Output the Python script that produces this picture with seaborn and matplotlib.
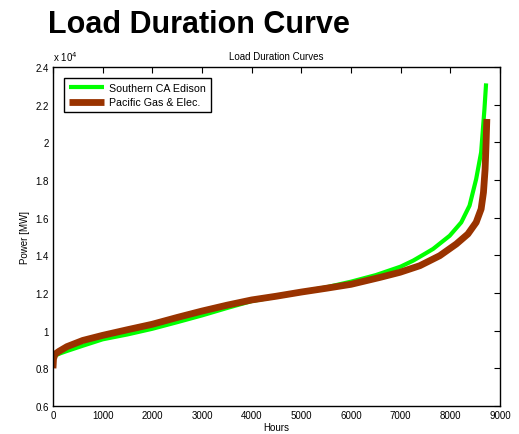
import matplotlib
matplotlib.use("Agg")
import matplotlib.pyplot as plt
import seaborn as sns
import pandas as pd
from matplotlib.ticker import FuncFormatter, MultipleLocator

sce_hours = [0, 20, 60, 150, 280, 600, 1000, 1500, 2000, 2500, 3000, 3500, 4000,
             4500, 5000, 5500, 6000, 6500, 7000, 7253, 7500, 7653, 7987, 8220,
             8387, 8520, 8620, 8687, 8720]
sce_mw = [8200, 8500, 8700, 8800, 8920, 9200, 9540, 9800, 10100, 10450, 10810,
          11200, 11570, 11800, 12070, 12300, 12600, 12950, 13400, 13720, 14100,
          14340, 15040, 15750, 16640, 18050, 19470, 21770, 23130]

pge_hours = [0, 10, 40, 120, 280, 600, 1000, 1500, 2000, 2500, 3000, 3500, 4000,
             4500, 5000, 5500, 6000, 6587, 6987, 7387, 7787, 8120, 8353, 8520,
             8620, 8667, 8700, 8720, 8735]
pge_mw = [8000, 8500, 8750, 8900, 9150, 9480, 9750, 10050, 10340, 10700, 11040,
          11350, 11630, 11830, 12050, 12250, 12460, 12830, 13100, 13450, 13980,
          14600, 15130, 15750, 16460, 17340, 18580, 20000, 21240]

series_names = ["Southern CA Edison", "Pacific Gas & Elec."]

sns.set_style("white")
plt.rcParams['font.family'] = ['Liberation Sans', 'DejaVu Sans']
plt.rcParams['text.color'] = 'black'
plt.rcParams['axes.labelcolor'] = 'black'
plt.rcParams['xtick.color'] = 'black'
plt.rcParams['ytick.color'] = 'black'

fig = plt.figure(figsize=(5.19, 4.35), dpi=100)
ax = fig.add_axes([0.1021, 0.0644, 0.8613, 0.7793])

df_sce = pd.DataFrame({"Hours": sce_hours, "MW": sce_mw})
df_pge = pd.DataFrame({"Hours": pge_hours, "MW": pge_mw})

sns.lineplot(data=df_sce, x="Hours", y="MW", ax=ax, color="#00ff00",
             linewidth=3.0, label=series_names[0], sort=False,
             solid_capstyle="butt")
sns.lineplot(data=df_pge, x="Hours", y="MW", ax=ax, color="#993300",
             linewidth=4.9, label=series_names[1], sort=False,
             solid_capstyle="butt")

ax.set_xlim(0, 9000)
ax.set_ylim(6000, 24000)
ax.xaxis.set_major_locator(MultipleLocator(1000))
ax.yaxis.set_major_locator(MultipleLocator(2000))
ax.yaxis.set_major_formatter(FuncFormatter(lambda v, p: "%g" % round(v / 1e4, 2)))
ax.tick_params(direction="in", top=True, right=True, length=4, width=0.8,
               labelsize=7, pad=3, colors="black")
for s in ax.spines.values():
    s.set_color("black")
    s.set_linewidth(1.0)

ax.set_xlabel("Hours", fontsize=7, labelpad=1)
ax.set_ylabel("Power [MW]", fontsize=7, labelpad=4)
ax.set_title("Load Duration Curves", fontsize=7, pad=6, color="black")
ax.text(0.0, 1.012, r"x 10$^4$", transform=ax.transAxes, fontsize=7,
        ha="left", va="bottom", color="black")

fig.text(0.092, 0.924, "Load Duration Curve", fontsize=22, fontweight="bold",
         ha="left", va="baseline", color="black")

leg = ax.legend(loc="upper left", fontsize=7.7, frameon=True, fancybox=False,
                edgecolor="black", framealpha=1, handlelength=3.3,
                bbox_to_anchor=(0.024, 0.968), borderaxespad=0.0,
                borderpad=0.45, labelspacing=0.45, handletextpad=0.5)
leg.get_frame().set_linewidth(1.0)
for t in leg.get_texts():
    t.set_color("black")

fig.savefig("out.png", dpi=100)
